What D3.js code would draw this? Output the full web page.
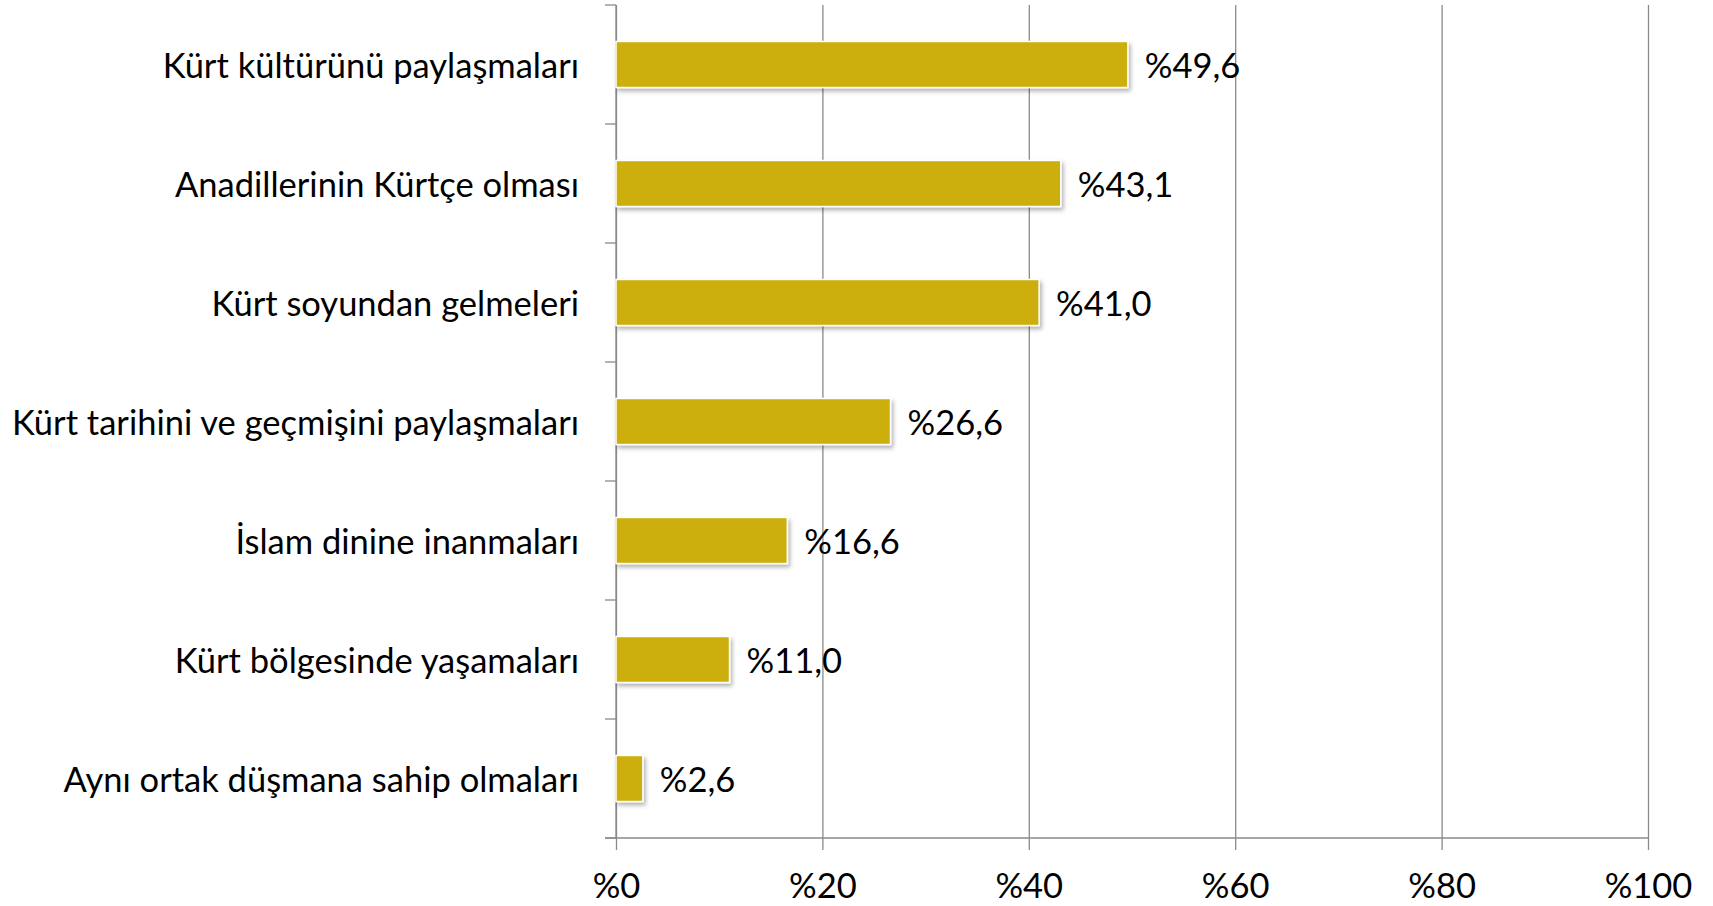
<!DOCTYPE html>
<html>
<head>
<meta charset="utf-8">
<script src="https://cdnjs.cloudflare.com/ajax/libs/d3/7.8.5/d3.min.js"></script>
<style>
    body { margin: 0; background: #fff; }
    svg { display: block; }
    .lbl { font-family: Lato, "Open Sans", sans-serif; font-size: 34.5px; fill: #000; }
</style>
</head>
<body>
<svg id="chart"></svg>
<script>
    // data
    const categories = [
        'Kürt kültürünü paylaşmaları',
        'Anadillerinin Kürtçe olması',
        'Kürt soyundan gelmeleri',
        'Kürt tarihini ve geçmişini paylaşmaları',
        'İslam dinine inanmaları',
        'Kürt bölgesinde yaşamaları',
        'Aynı ortak düşmana sahip olmaları'
    ];
    const values = [49.6, 43.1, 41.0, 26.6, 16.6, 11.0, 2.6];
    const xTicks = [0, 20, 40, 60, 80, 100];

    const width = 1713, height = 906;
    const margin = {left: 616, right: 1648, top: 5, bottom: 838};

    const svg = d3.select('#chart')
        .attr('width', width)
        .attr('height', height);

    const defs = svg.append('defs');
    defs.append('filter')
        .attr('id', 'shadow')
        .attr('x', '-10%').attr('y', '-20%')
        .attr('width', '130%').attr('height', '160%')
        .append('feDropShadow')
        .attr('dx', 2).attr('dy', 3)
        .attr('stdDeviation', 2)
        .attr('flood-color', '#000')
        .attr('flood-opacity', 0.3);

    const x = d3.scaleLinear().domain([0, 100]).range([margin.left, margin.right]);
    const y = d3.scaleBand()
        .domain(categories)
        .range([margin.top, margin.bottom])
        .paddingInner(0.613)
        .paddingOuter(0.3065);

    const gridColor = '#8a8a8a';
    const plotH = margin.bottom - margin.top;

    // vertical gridlines + bottom axis
    const xAxis = d3.axisBottom(x)
        .tickValues(xTicks)
        .tickSize(plotH)
        .tickFormat(d => '%' + d);
    const gX = svg.append('g')
        .attr('transform', 'translate(0,' + margin.top + ')')
        .call(xAxis);
    gX.select('.domain').remove();
    gX.selectAll('.tick line')
        .attr('stroke', gridColor)
        .attr('stroke-width', 1.3)
        .attr('y2', plotH + 12);
    gX.selectAll('.tick text')
        .attr('class', 'lbl')
        .attr('y', plotH + 60)
        .attr('dy', 0)
        .attr('text-anchor', 'middle');

    // bottom axis line
    svg.append('line')
        .attr('x1', margin.left - 11).attr('x2', margin.right)
        .attr('y1', margin.bottom).attr('y2', margin.bottom)
        .attr('stroke', gridColor)
        .attr('stroke-width', 1.3);

    // left axis line with ticks between categories
    svg.append('line')
        .attr('x1', margin.left).attr('x2', margin.left)
        .attr('y1', margin.top).attr('y2', margin.bottom)
        .attr('stroke', gridColor)
        .attr('stroke-width', 1.3);
    const bounds = d3.range(categories.length + 1)
        .map(i => margin.top + i * plotH / categories.length);
    svg.append('g').selectAll('line')
        .data(bounds)
        .join('line')
        .attr('x1', margin.left - 11).attr('x2', margin.left)
        .attr('y1', d => d).attr('y2', d => d)
        .attr('stroke', gridColor)
        .attr('stroke-width', 1.3);

    // category labels
    svg.append('g').selectAll('text')
        .data(categories)
        .join('text')
        .attr('class', 'lbl')
        .attr('x', margin.left - 37)
        .attr('y', d => y(d) + y.bandwidth() / 2)
        .attr('dy', '0.4em')
        .attr('text-anchor', 'end')
        .text(d => d);

    // bars
    svg.append('g').selectAll('rect')
        .data(values)
        .join('rect')
        .attr('x', x(0))
        .attr('y', (d, i) => y(categories[i]))
        .attr('width', d => x(d) - x(0))
        .attr('height', y.bandwidth())
        .attr('fill', '#ccaf0b')
        .attr('stroke', '#fff')
        .attr('stroke-width', 1.5)
        .attr('filter', 'url(#shadow)');

    // value labels
    svg.append('g').selectAll('text')
        .data(values)
        .join('text')
        .attr('class', 'lbl')
        .attr('x', d => x(d) + 17)
        .attr('y', (d, i) => y(categories[i]) + y.bandwidth() / 2)
        .attr('dy', '0.4em')
        .text(d => '%' + d.toFixed(1).replace('.', ','));
</script>
</body>
</html>
